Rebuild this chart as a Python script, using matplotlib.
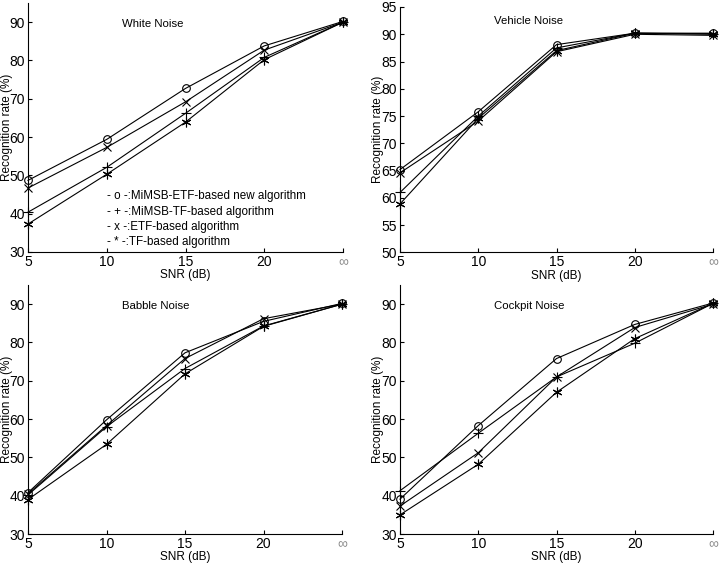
import matplotlib
matplotlib.use("Agg")
import matplotlib.pyplot as plt

plt.rcParams['font.family'] = ['Liberation Sans', 'DejaVu Sans']

snr_positions = [5, 10, 15, 20, 25]
snr_labels = ['5', '10', '15', '20', '\u221e']

series_names = ['MiMSB-ETF-based new algorithm', 'MiMSB-TF-based algorithm',
                'ETF-based algorithm', 'TF-based algorithm']
legend_lines = ['- o -:MiMSB-ETF-based new algorithm',
                '- + -:MiMSB-TF-based algorithm',
                '- x -:ETF-based algorithm',
                '- * -:TF-based algorithm']

panel_titles = ['White Noise', 'Vehicle Noise', 'Babble Noise', 'Cockpit Noise']

white_o = [48.7, 59.4, 72.7, 83.8, 90.2]
white_plus = [40.4, 52.1, 66.2, 80.8, 90.0]
white_x = [46.7, 57.3, 69.2, 82.7, 90.0]
white_star = [37.3, 50.3, 63.9, 80.2, 90.0]

vehicle_o = [65.2, 75.8, 88.1, 90.2, 90.2]
vehicle_plus = [61.0, 75.0, 87.5, 90.2, 90.1]
vehicle_x = [64.6, 74.1, 86.8, 90.0, 89.8]
vehicle_star = [58.9, 74.6, 87.0, 90.2, 90.0]

babble_o = [40.8, 59.8, 77.3, 85.5, 90.2]
babble_plus = [40.2, 58.0, 73.2, 84.3, 90.0]
babble_x = [40.5, 58.3, 75.8, 86.2, 90.0]
babble_star = [39.0, 53.4, 71.8, 84.2, 90.0]

cockpit_o = [39.1, 58.3, 75.8, 84.7, 90.3]
cockpit_plus = [41.3, 56.3, 71.0, 79.8, 90.2]
cockpit_x = [37.3, 51.2, 71.0, 83.9, 90.0]
cockpit_star = [35.0, 48.2, 67.0, 81.0, 90.2]

panels = [
    (white_o, white_plus, white_x, white_star),
    (vehicle_o, vehicle_plus, vehicle_x, vehicle_star),
    (babble_o, babble_plus, babble_x, babble_star),
    (cockpit_o, cockpit_plus, cockpit_x, cockpit_star),
]
ylims = [(30, 95), (50, 95), (30, 95), (30, 95)]
yticks = [list(range(30, 91, 10)), list(range(50, 96, 5)),
          list(range(30, 91, 10)), list(range(30, 91, 10))]
title_y = [89.4, 92.4, 89.4, 89.4]

W, H = 723, 565
# axes boxes in pixels: left, right, top, bottom
boxes = [(28, 343, 3, 252), (400, 713, 7, 252.5),
         (28, 342, 285, 534), (400, 713, 285, 534)]
ylabel_x = [-0.048, -0.052, -0.048, -0.052]

markers = [dict(marker='o', mfc='none', ms=5.5),
           dict(marker='+', ms=7),
           dict(marker='x', ms=6),
           dict(marker=(6, 2, 0), ms=7)]

fig = plt.figure(figsize=(W / 100, H / 100), dpi=100)

for i, (data, (l, r, t, b)) in enumerate(zip(panels, boxes)):
    ax = fig.add_axes([l / W, 1 - b / H, (r - l) / W, (b - t) / H])
    for s, name, mk in zip(data, series_names, markers):
        ax.plot(snr_positions, s, color='black', lw=0.8, mec='black',
                mew=0.8, label=name, clip_on=False, **mk)
    ax.set_xlim(5, 25)
    ax.set_ylim(*ylims[i])
    ax.set_xticks(snr_positions)
    ax.set_xticklabels(snr_labels)
    ax.set_yticks(yticks[i])
    ax.spines['top'].set_visible(False)
    ax.spines['right'].set_visible(False)
    ax.spines['left'].set_linewidth(0.8)
    ax.spines['bottom'].set_linewidth(0.8)
    ax.tick_params(direction='in', length=3, width=0.8, labelsize=10, pad=2)
    ax.get_xticklabels()[-1].set_color('#888888')
    ax.set_xlabel('SNR (dB)', fontsize=8.5)
    ax.xaxis.set_label_coords(0.5, -0.07)
    ax.set_ylabel('Recognition rate (%)', fontsize=8.5)
    ax.yaxis.set_label_coords(ylabel_x[i], 0.5)
    ax.text(11.0, title_y[i], panel_titles[i], fontsize=8.2, va='center', ha='left')
    if i == 0:
        for j, (line, yv) in enumerate(zip(legend_lines, [44.6, 40.5, 36.4, 32.7])):
            ax.text(10.0, yv, line, fontsize=8.4, va='center', ha='left')

fig.savefig('out.png', dpi=100)
